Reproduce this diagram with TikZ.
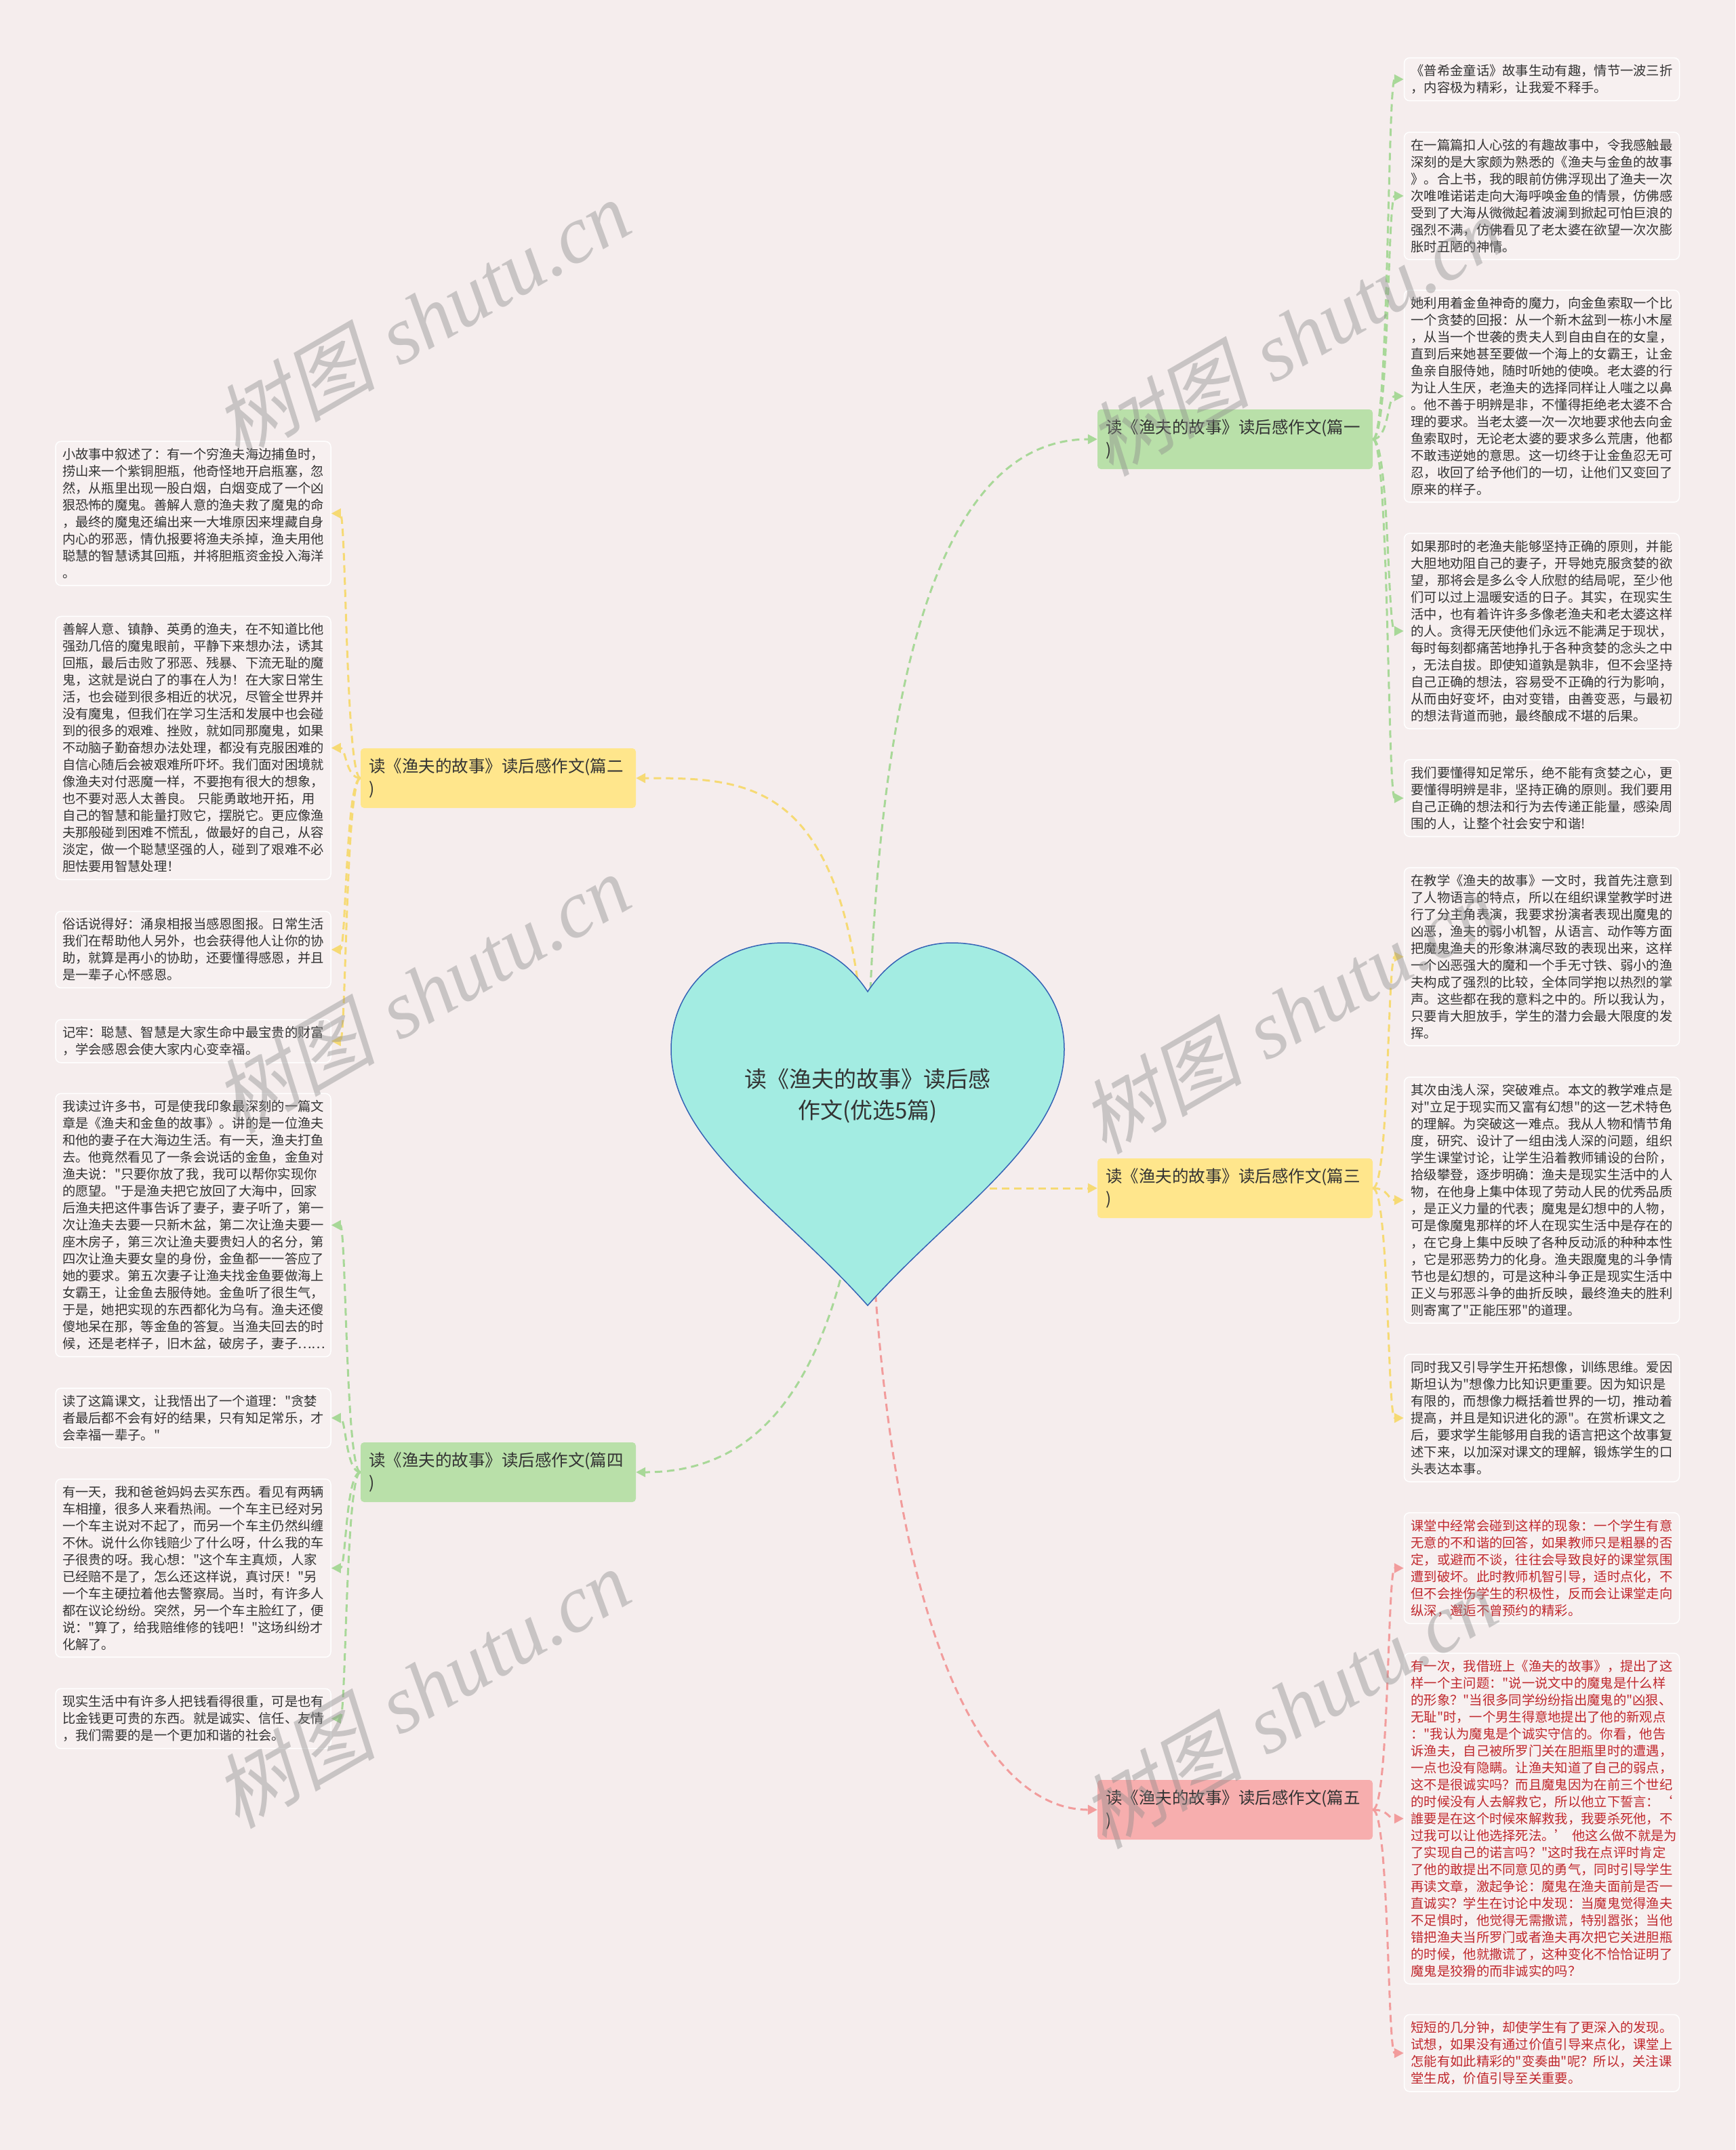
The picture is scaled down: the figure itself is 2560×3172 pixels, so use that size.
\documentclass[tikz,border=0pt]{standalone}
\usepackage{fontspec}
\newfontfamily\cjk{Noto Sans CJK SC}
\newfontfamily\wmcjk[FakeSlant=0.22]{Noto Sans CJK SC}
\newfontfamily\wmlat{Liberation Serif}
\usetikzlibrary{arrows.meta}
\definecolor{bg}{HTML}{F5EDED}
\definecolor{leaffill}{HTML}{F7F0F0}
\definecolor{leafdraw}{HTML}{FFFFFF}
\definecolor{leaftext}{HTML}{333333}
\definecolor{redtext}{HTML}{C0282D}
\definecolor{heartfill}{HTML}{A3ECE2}
\definecolor{heartdraw}{HTML}{3563B5}
\definecolor{gfill}{HTML}{B9E0A9}
\definecolor{yfill}{HTML}{FFE68C}
\definecolor{pfill}{HTML}{F7AEAE}
\definecolor{gline}{HTML}{A8D898}
\definecolor{yline}{HTML}{F6DA74}
\definecolor{pline}{HTML}{F29C9C}
\definecolor{wmark}{HTML}{8C8C8C}
\tikzset{
  leaf/.style={draw=leafdraw, line width=1.5pt, fill=leaffill, rounded corners=8pt,
    text width=386pt, inner xsep=10pt, inner ysep=10pt, align=left,
    font=\cjk\fontsize{19.3}{25}\selectfont, text=leaftext},
  redleaf/.style={leaf, text=redtext},
  branch/.style={rounded corners=5pt, text width=382pt, inner xsep=12pt, inner ysep=8pt,
    minimum height=88pt, align=left, font=\cjk\fontsize{24.5}{33}\selectfont, text=leaftext},
  conn/.style={line width=3pt, dash pattern=on 11pt off 7pt, -{Triangle[length=14pt,width=14pt]}},
  gconn/.style={conn, draw=gline},
  yconn/.style={conn, draw=yline},
  pconn/.style={conn, draw=pline},
  wm/.style={text=wmark, opacity=0.42, rotate=30, anchor=base west, inner sep=0pt,
    font=\fontsize{120}{120}\selectfont}
}
\newcommand{\wmtext}{{\wmcjk 树图} {\wmlat\itshape shutu.cn}}
\begin{document}
\begin{tikzpicture}[x=1pt,y=-1pt]
\path[use as bounding box, fill=bg] (0,0) rectangle (2560,3172);

% branches
\node[branch, fill=gfill] (b1) at (1822,648) {读《渔夫的故事》读后感作文(篇一\\)};
\node[branch, fill=yfill] (b2) at (735,1148) {读《渔夫的故事》读后感作文(篇二\\)};
\node[branch, fill=yfill] (b3) at (1822,1753) {读《渔夫的故事》读后感作文(篇三\\)};
\node[branch, fill=gfill] (b4) at (735,2172) {读《渔夫的故事》读后感作文(篇四\\)};
\node[branch, fill=pfill] (b5) at (1822,2670) {读《渔夫的故事》读后感作文(篇五\\)};

% heart to branches (start hidden behind the heart)
\coordinate (hc) at (1280,1640);
\coordinate (hr) at (1280,1753);
\draw[gconn] (hc) .. controls (1285,900) and (1420,648) .. (b1.west);
\draw[yconn] (hc) .. controls (1268,1150) and (1120,1148) .. (b2.east);
\draw[yconn] (hr) -- (b3.west);
\draw[gconn] (hc) .. controls (1245,2060) and (1110,2172) .. (b4.east);
\draw[pconn] (hc) .. controls (1292,2400) and (1450,2670) .. (b5.west);

% heart
\draw[fill=heartfill, draw=heartdraw, line width=1.5pt]
  (1280,1463) .. controls (1245,1410) and (1200,1391) .. (1156,1391)
  .. controls (1060,1391) and (990,1460) .. (990,1548)
  .. controls (990,1685) and (1155,1785) .. (1280,1926)
  .. controls (1405,1785) and (1570,1685) .. (1570,1548)
  .. controls (1570,1460) and (1500,1391) .. (1404,1391)
  .. controls (1360,1391) and (1315,1410) .. (1280,1463) -- cycle;
\node[align=center, font=\cjk\fontsize{33}{46}\selectfont, text=leaftext] (heart) at (1280,1617)
  {读《渔夫的故事》读后感\\作文(优选5篇)};

% right leaves
\node[leaf] (r1) at (2274.5,117) {《普希金童话》故事生动有趣，情节一波三折\\，内容极为精彩，让我爱不释手。};
\node[leaf] (r2) at (2274.5,289) {在一篇篇扣人心弦的有趣故事中，令我感触最\\
深刻的是大家颇为熟悉的《渔夫与金鱼的故事\\
》。合上书，我的眼前仿佛浮现出了渔夫一次\\
次唯唯诺诺走向大海呼唤金鱼的情景，仿佛感\\
受到了大海从微微起着波澜到掀起可怕巨浪的\\
强烈不满，仿佛看见了老太婆在欲望一次次膨\\
胀时丑陋的神情。};
\node[leaf] (r3) at (2274.5,584.5) {她利用着金鱼神奇的魔力，向金鱼索取一个比\\
一个贪婪的回报：从一个新木盆到一栋小木屋\\
，从当一个世袭的贵夫人到自由自在的女皇，\\
直到后来她甚至要做一个海上的女霸王，让金\\
鱼亲自服侍她，随时听她的使唤。老太婆的行\\
为让人生厌，老渔夫的选择同样让人嗤之以鼻\\
。他不善于明辨是非，不懂得拒绝老太婆不合\\
理的要求。当老太婆一次一次地要求他去向金\\
鱼索取时，无论老太婆的要求多么荒唐，他都\\
不敢违逆她的意思。这一切终于让金鱼忍无可\\
忍，收回了给予他们的一切，让他们又变回了\\
原来的样子。};
\node[leaf] (r4) at (2274.5,931) {如果那时的老渔夫能够坚持正确的原则，并能\\
大胆地劝阻自己的妻子，开导她克服贪婪的欲\\
望，那将会是多么令人欣慰的结局呢，至少他\\
们可以过上温暖安适的日子。其实，在现实生\\
活中，也有着许许多多像老渔夫和老太婆这样\\
的人。贪得无厌使他们永远不能满足于现状，\\
每时每刻都痛苦地挣扎于各种贪婪的念头之中\\
，无法自拔。即使知道孰是孰非，但不会坚持\\
自己正确的想法，容易受不正确的行为影响，\\
从而由好变坏，由对变错，由善变恶，与最初\\
的想法背道而驰，最终酿成不堪的后果。};
\node[leaf] (r5) at (2274.5,1177.5) {我们要懂得知足常乐，绝不能有贪婪之心，更\\
要懂得明辨是非，坚持正确的原则。我们要用\\
自己正确的想法和行为去传递正能量，感染周\\
围的人，让整个社会安宁和谐!};
\node[leaf] (r6) at (2274.5,1411.5) {在教学《渔夫的故事》一文时，我首先注意到\\
了人物语言的特点，所以在组织课堂教学时进\\
行了分主角表演，我要求扮演者表现出魔鬼的\\
凶恶，渔夫的弱小机智，从语言、动作等方面\\
把魔鬼渔夫的形象淋漓尽致的表现出来，这样\\
一个凶恶强大的魔和一个手无寸铁、弱小的渔\\
夫构成了强烈的比较，全体同学抱以热烈的掌\\
声。这些都在我的意料之中的。所以我认为，\\
只要肯大胆放手，学生的潜力会最大限度的发\\
挥。};
\node[leaf] (r7) at (2274.5,1770.5) {其次由浅人深，突破难点。本文的教学难点是\\
对"立足于现实而又富有幻想"的这一艺术特色\\
的理解。为突破这一难点。我从人物和情节角\\
度，研究、设计了一组由浅人深的问题，组织\\
学生课堂讨论，让学生沿着教师铺设的台阶，\\
拾级攀登，逐步明确：渔夫是现实生活中的人\\
物，在他身上集中体现了劳动人民的优秀品质\\
，是正义力量的代表；魔鬼是幻想中的人物，\\
可是像魔鬼那样的坏人在现实生活中是存在的\\
，在它身上集中反映了各种反动派的种种本性\\
，它是邪恶势力的化身。渔夫跟魔鬼的斗争情\\
节也是幻想的，可是这种斗争正是现实生活中\\
正义与邪恶斗争的曲折反映，最终渔夫的胜利\\
则寄寓了"正能压邪"的道理。};
\node[leaf] (r8) at (2274.5,2092) {同时我又引导学生开拓想像，训练思维。爱因\\
斯坦认为"想像力比知识更重要。因为知识是\\
有限的，而想像力概括着世界的一切，推动着\\
提高，并且是知识进化的源"。在赏析课文之\\
后，要求学生能够用自我的语言把这个故事复\\
述下来，以加深对课文的理解，锻炼学生的口\\
头表达本事。};
\node[redleaf] (r9) at (2274.5,2313.5) {课堂中经常会碰到这样的现象：一个学生有意\\
无意的不和谐的回答，如果教师只是粗暴的否\\
定，或避而不谈，往往会导致良好的课堂氛围\\
遭到破坏。此时教师机智引导，适时点化，不\\
但不会挫伤学生的积极性，反而会让课堂走向\\
纵深，邂逅不曾预约的精彩。};
\node[redleaf] (r10) at (2274.5,2683) {有一次，我借班上《渔夫的故事》，提出了这\\
样一个主问题："说一说文中的魔鬼是什么样\\
的形象？"当很多同学纷纷指出魔鬼的"凶狠、\\
无耻"时，一个男生得意地提出了他的新观点\\
："我认为魔鬼是个诚实守信的。你看，他告\\
诉渔夫，自己被所罗门关在胆瓶里时的遭遇，\\
一点也没有隐瞒。让渔夫知道了自己的弱点，\\
这不是很诚实吗？而且魔鬼因为在前三个世纪\\
的时候没有人去解救它，所以他立下誓言：‘\\
誰要是在这个时候來解救我，我要杀死他，不\\
过我可以让他选择死法。’~他这么做不就是为\\
了实现自己的诺言吗？"这时我在点评时肯定\\
了他的敢提出不同意见的勇气，同时引导学生\\
再读文章，激起争论：魔鬼在渔夫面前是否一\\
直诚实？学生在讨论中发现：当魔鬼觉得渔夫\\
不足惧时，他觉得无需撒谎，特别嚣张；当他\\
错把渔夫当所罗门或者渔夫再次把它关进胆瓶\\
的时候，他就撒谎了，这种变化不恰恰证明了\\
魔鬼是狡猾的而非诚实的吗？};
\node[redleaf] (r11) at (2274.5,3029) {短短的几分钟，却使学生有了更深入的发现。\\
试想，如果没有通过价值引导来点化，课堂上\\
怎能有如此精彩的"变奏曲"呢？所以，关注课\\
堂生成，价值引导至关重要。};

% left leaves
\node[leaf] (l1) at (285,757.5) {小故事中叙述了：有一个穷渔夫海边捕鱼时，\\
捞山来一个紫铜胆瓶，他奇怪地开启瓶塞，忽\\
然，从瓶里出现一股白烟，白烟变成了一个凶\\
狠恐怖的魔鬼。善解人意的渔夫救了魔鬼的命\\
，最终的魔鬼还编出来一大堆原因来埋藏自身\\
内心的邪恶，情仇报要将渔夫杀掉，渔夫用他\\
聪慧的智慧诱其回瓶，并将胆瓶资金投入海洋\\
。};
\node[leaf] (l2) at (285,1103.5) {善解人意、镇静、英勇的渔夫，在不知道比他\\
强劲几倍的魔鬼眼前，平静下来想办法，诱其\\
回瓶，最后击败了邪恶、残暴、下流无耻的魔\\
鬼，这就是说白了的事在人为！在大家日常生\\
活，也会碰到很多相近的状况，尽管全世界并\\
没有魔鬼，但我们在学习生活和发展中也会碰\\
到的很多的艰难、挫败，就如同那魔鬼，如果\\
不动脑子勤奋想办法处理，都没有克服困难的\\
自信心随后会被艰难所吓坏。我们面对困境就\\
像渔夫对付恶魔一样，不要抱有很大的想象，\\
也不要对恶人太善良。~只能勇敢地开拓，用\\
自己的智慧和能量打败它，摆脱它。更应像渔\\
夫那般碰到困难不慌乱，做最好的自己，从容\\
淡定，做一个聪慧坚强的人，碰到了艰难不必\\
胆怯要用智慧处理！};
\node[leaf] (l3) at (285,1401) {俗话说得好：涌泉相报当感恩图报。日常生活\\
我们在帮助他人另外，也会获得他人让你的协\\
助，就算是再小的协助，还要懂得感恩，并且\\
是一辈子心怀感恩。};
\node[leaf] (l4) at (285,1536) {记牢：聪慧、智慧是大家生命中最宝贵的财富\\
，学会感恩会使大家内心变幸福。};
\node[leaf] (l5) at (285,1807.5) {我读过许多书，可是使我印象最深刻的一篇文\\
章是《渔夫和金鱼的故事》。讲的是一位渔夫\\
和他的妻子在大海边生活。有一天，渔夫打鱼\\
去。他竟然看见了一条会说话的金鱼，金鱼对\\
渔夫说："只要你放了我，我可以帮你实现你\\
的愿望。"于是渔夫把它放回了大海中，回家\\
后渔夫把这件事告诉了妻子，妻子听了，第一\\
次让渔夫去要一只新木盆，第二次让渔夫要一\\
座木房子，第三次让渔夫要贵妇人的名分，第\\
四次让渔夫要女皇的身份，金鱼都一一答应了\\
她的要求。第五次妻子让渔夫找金鱼要做海上\\
女霸王，让金鱼去服侍她。金鱼听了很生气，\\
于是，她把实现的东西都化为乌有。渔夫还傻\\
傻地呆在那，等金鱼的答复。当渔夫回去的时\\
候，还是老样子，旧木盆，破房子，妻子……};
\node[leaf] (l6) at (285,2092) {读了这篇课文，让我悟出了一个道理："贪婪\\
者最后都不会有好的结果，只有知足常乐，才\\
会幸福一辈子。"};
\node[leaf] (l7) at (285,2313.5) {有一天，我和爸爸妈妈去买东西。看见有两辆\\
车相撞，很多人来看热闹。一个车主已经对另\\
一个车主说对不起了，而另一个车主仍然纠缠\\
不休。说什么你钱赔少了什么呀，什么我的车\\
子很贵的呀。我心想："这个车主真烦，人家\\
已经赔不是了，怎么还这样说，真讨厌！"另\\
一个车主硬拉着他去警察局。当时，有许多人\\
都在议论纷纷。突然，另一个车主脸红了，便\\
说："算了，给我赔维修的钱吧！"这场纠纷才\\
化解了。};
\node[leaf] (l8) at (285,2535.5) {现实生活中有许多人把钱看得很重，可是也有\\
比金钱更可贵的东西。就是诚实、信任、友情\\
，我们需要的是一个更加和谐的社会。};

% branches to leaves
\foreach \n in {r1,r2,r3,r4,r5}
  \draw[gconn] (b1.east) .. controls +(24,0) and +(-24,0) .. (\n.west);
\foreach \n in {r6,r7,r8}
  \draw[yconn] (b3.east) .. controls +(24,0) and +(-24,0) .. (\n.west);
\foreach \n in {r9,r10,r11}
  \draw[pconn] (b5.east) .. controls +(24,0) and +(-24,0) .. (\n.west);
\foreach \n in {l1,l2,l3,l4}
  \draw[yconn] (b2.west) .. controls +(-22,0) and +(22,0) .. (\n.east);
\foreach \n in {l5,l6,l7,l8}
  \draw[gconn] (b4.west) .. controls +(-22,0) and +(22,0) .. (\n.east);

% watermarks
\node[wm] (w1) at (350,680) {\wmtext};
\node[wm] (w2) at (1639,705) {\wmtext};
\node[wm] (w3) at (350,1675) {\wmtext};
\node[wm] (w4) at (1629,1705) {\wmtext};
\node[wm] (w5) at (350,2700) {\wmtext};
\node[wm] (w6) at (1629,2730) {\wmtext};
\end{tikzpicture}
\end{document}
